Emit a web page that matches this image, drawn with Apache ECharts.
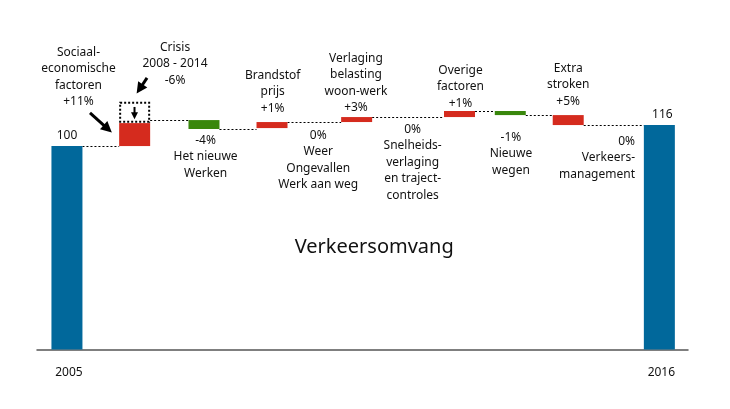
<!DOCTYPE html>
<html>
<head>
<meta charset="utf-8">
<script src="https://cdn.jsdelivr.net/npm/echarts@6/dist/echarts.min.js"></script>
<style>html,body{margin:0;padding:0;background:#fff}#c{width:730px;height:409px}</style>
</head>
<body>
<div id="c"></div>
<script>
// ---------------- DATA ----------------
const categories = ['2005', 'Sociaal-economische factoren', 'Het nieuwe Werken', 'Brandstofprijs',
  'Weer, Ongevallen, Werk aan weg', 'Verlaging belasting woon-werk', 'Snelheidsverlaging en trajectcontroles',
  'Overige factoren', 'Nieuwe wegen', 'Extra stroken', 'Verkeersmanagement', '2016'];
const changes = [null, '+11%', '-4%', '+1%', '0%', '+3%', '0%', '+1%', '-1%', '+5%', '0%', null];
const barType = ['total', 'up', 'down', 'up', 'none', 'up', 'none', 'up', 'down', 'up', 'none', 'total'];
// schematic index levels (as drawn in the picture)
const barLow  = [null, 100, 113, 113.7, null, 118.3, null, 122.1, 123.6, 116, null, null];
const barHigh = [100, 117.5, 119.8, 118.3, null, 122.1, null, 126.7, 126.7, 123.6, null, 116];
const connectorLevels = [100, 119.8, 113, 118.3, 122.1, 126.7, 123.6, 116];
const crisisLow = 118.5, crisisHigh = 133;
const crisisLines = ['Crisis', '2008 - 2014', '-6%'];
const labelLines = [
  [],
  ['Sociaal-', 'economische', 'factoren', '+11%'],
  ['-4%', 'Het nieuwe', 'Werken'],
  ['Brandstof', 'prijs', '+1%'],
  ['0%', 'Weer', 'Ongevallen', 'Werk aan weg'],
  ['Verlaging', 'belasting', 'woon-werk', '+3%'],
  ['0%', 'Snelheids-', 'verlaging', 'en traject-', 'controles'],
  ['Overige', 'factoren', '+1%'],
  ['-1%', 'Nieuwe', 'wegen'],
  ['Extra', 'stroken', '+5%'],
  ['0%', 'Verkeers-', 'management'],
  []
];
const chartTitle = 'Verkeersomvang';

// ---------------- LAYOUT ----------------
const Y_MIN = -55, Y_MAX = 195;
const BW = 31;
const FONT = '"Noto Sans", "DejaVu Sans", sans-serif';
const COLORS = { total: '#01689b', up: '#d52b1e', down: '#39870c' };
const layout = {
  xPos: [4.6, 15.0, 25.65, 36.1, 43.2, 49.1, 57.7, 64.9, 72.7, 81.6, 86.5, 95.6],
  labelAt: [null, [6.37, 177.8, 'center'], [25.9, 110.7, 'center'], [36.2, 160.2, 'center'],
    [43.2, 114.5, 'center'], [49.0, 173.2, 'center'], [57.7, 119.1, 'center'], [65.05, 164.0, 'center'],
    [72.8, 113.0, 'center'], [81.6, 165.6, 'center'], [91.86, 110.0, 'right'], null],
  crisisLabelAt: [21.2, 181.6],
  arrows: [[8.14, 125.2, 11.5, 110.3, 3, 11], [16.9, 151.9, 15.3, 140.0, 3, 11], [14.98, 129.8, 14.98, 120.4, 2, 7]],
  titleAt: [51.8, 23.1]
};

// ---------------- BUILD ----------------
const barData = categories.map((c, i) => [layout.xPos[i], barLow[i] == null ? Y_MIN : barLow[i], barHigh[i] == null ? Y_MIN : barHigh[i], i]);

const visible = barType.map((t, i) => t !== 'none' ? i : -1).filter(i => i >= 0);
const connData = [];
for (let k = 0; k < visible.length - 1; k++) {
  connData.push([layout.xPos[visible[k]], layout.xPos[visible[k + 1]], connectorLevels[k]]);
}

const textData = [];
labelLines.forEach((lines, i) => {
  if (lines.length && layout.labelAt[i]) {
    textData.push({ value: [layout.labelAt[i][0], layout.labelAt[i][1]], text: lines.join('\n'), align: layout.labelAt[i][2], size: 12, va: 'top' });
  }
});
textData.push({ value: layout.crisisLabelAt, text: crisisLines.join('\n'), align: 'center', size: 12, va: 'top' });
textData.push({ value: layout.titleAt, text: chartTitle, align: 'center', size: 20, va: 'middle' });

const chart = echarts.init(document.getElementById('c'), null, { renderer: 'canvas' });
chart.setOption({
  animation: false,
  backgroundColor: '#fff',
  grid: { left: 37, right: 42, top: 21.375, bottom: 59.5 },
  xAxis: {
    type: 'value', min: 0, max: 100,
    axisLine: { show: true, onZero: false, lineStyle: { color: '#555', width: 1.5 } },
    axisTick: { show: false }, axisLabel: { show: false }, splitLine: { show: false }
  },
  yAxis: { type: 'value', min: Y_MIN, max: Y_MAX, show: false, splitLine: { show: false } },
  series: [
    { // connectors
      type: 'custom', z: 1, clip: false,
      data: connData,
      renderItem: (params, api) => {
        const a = api.coord([api.value(0), api.value(2)]);
        const b = api.coord([api.value(1), api.value(2)]);
        const y = Math.round(a[1]) + 0.5;
        return { type: 'line', shape: { x1: a[0] + BW / 2, y1: y, x2: b[0] - BW / 2, y2: y },
          style: { stroke: '#000', lineWidth: 1, lineDash: [2, 2] } };
      }
    },
    { // bars
      type: 'custom', z: 2, clip: false,
      data: barData,
      renderItem: (params, api) => {
        const i = api.value(3);
        const t = barType[i];
        if (t === 'none') return null;
        const top = api.coord([api.value(0), api.value(2)]);
        const bot = api.coord([api.value(0), api.value(1)]);
        const children = [{ type: 'rect', shape: { x: top[0] - BW / 2, y: top[1], width: BW, height: bot[1] - top[1] },
          style: { fill: COLORS[t] } }];
        if (t === 'total') {
          children.push({ type: 'text', x: top[0] + (i === 0 ? 0 : 3), y: top[1] - 10,
            style: { text: String(barHigh[i]), font: '12px ' + FONT, fill: '#111', align: 'center', verticalAlign: 'middle' } });
          children.push({ type: 'text', x: top[0] + 2, y: bot[1] + 23,
            style: { text: categories[i], font: '12px ' + FONT, fill: '#111', align: 'center', verticalAlign: 'middle' } });
        }
        if (i === 1) {
          const ct = api.coord([api.value(0), crisisHigh]);
          const cb = api.coord([api.value(0), crisisLow]);
          children.push({ type: 'rect', shape: { x: ct[0] - BW / 2 + 1, y: ct[1], width: BW - 2, height: cb[1] - ct[1] },
            style: { fill: 'none', stroke: '#000', lineWidth: 2, lineDash: [2, 2] } });
        }
        return { type: 'group', children };
      }
    },
    { // arrows
      type: 'custom', z: 3, clip: false,
      data: layout.arrows,
      renderItem: (params, api) => {
        const p = api.coord([api.value(0), api.value(1)]);
        const q = api.coord([api.value(2), api.value(3)]);
        const w = api.value(4), h = api.value(5);
        const dx = q[0] - p[0], dy = q[1] - p[1];
        const len = Math.sqrt(dx * dx + dy * dy);
        const ux = dx / len, uy = dy / len;
        const bx = q[0] - ux * h, by = q[1] - uy * h;
        const hw = h * 0.5;
        return { type: 'group', children: [
          { type: 'line', shape: { x1: p[0], y1: p[1], x2: bx + ux * 1, y2: by + uy * 1 }, style: { stroke: '#000', lineWidth: w } },
          { type: 'polygon', shape: { points: [[q[0], q[1]], [bx - uy * hw, by + ux * hw], [bx + uy * hw, by - ux * hw]] }, style: { fill: '#000' } }
        ] };
      }
    },
    { // texts
      type: 'custom', z: 4, clip: false,
      data: textData,
      renderItem: (params, api) => {
        const d = textData[params.dataIndex];
        const p = api.coord(d.value);
        return { type: 'text', x: p[0], y: p[1],
          style: { text: d.text, font: d.size + 'px ' + FONT, fill: '#111', align: d.align, verticalAlign: d.va, lineHeight: 16.5 } };
      }
    }
  ]
});
</script>
</body>
</html>
